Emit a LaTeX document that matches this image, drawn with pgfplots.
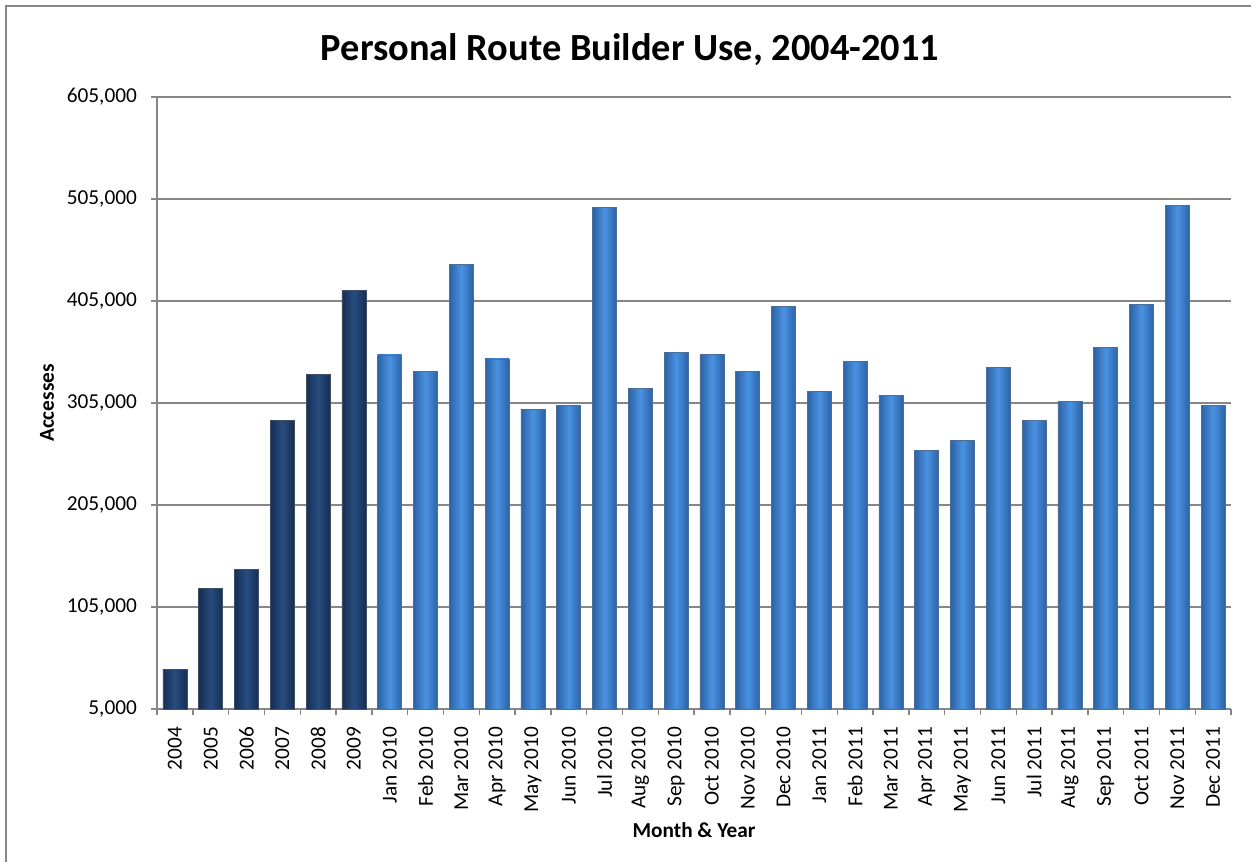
\documentclass[border=0pt]{standalone}
\usepackage{pgfplots}
\pgfplotsset{compat=1.18}
\usepackage{fontspec}
\setmainfont{Carlito}
\definecolor{gridgray}{RGB}{134,134,134}
\definecolor{darkE}{RGB}{22,46,84}
\definecolor{darkC}{RGB}{40,76,126}
\definecolor{lightE}{RGB}{44,98,166}
\definecolor{lightC}{RGB}{74,146,226}
\pgfplotsset{
  darkbar/.style={ybar, bar width=12pt, bar shift=0pt, draw=darkE!60!gray, line width=0.4pt,
    left color=darkE, right color=darkE, middle color=darkC},
  lightbar/.style={ybar, bar width=12pt, bar shift=0pt, draw=lightE!60!gray, line width=0.4pt,
    left color=lightE, right color=lightE, middle color=lightC},
}
\begin{document}
\begin{tikzpicture}[x=1pt,y=1pt]
\useasboundingbox (0,0) rectangle (625.5,431);
\draw[gridgray, line width=0.8pt] (3,0) -- (3,428) -- (625.5,428);
\node[font=\fontsize{19.2}{23}\selectfont\bfseries] at (315,406) {Personal Route Builder Use, 2004-2011};
\node[font=\fontsize{10.65}{12.8}\selectfont\bfseries, rotate=90] at (23.5,229.5) {Accesses};
\node[font=\fontsize{10.65}{12.8}\selectfont\bfseries] at (347,16) {Month \& Year};
\begin{axis}[
  at={(78.5pt,76.5pt)}, anchor=south west,
  width=537pt, height=306pt, scale only axis,
  xmin=-0.5, xmax=29.5, ymin=5000, ymax=605000,
  enlargelimits=false,
  axis x line*=bottom, axis y line*=left,
  axis line style={gridgray, line width=0.7pt},
  xtick={0,...,29},
  xticklabels={2004,2005,2006,2007,2008,2009,Jan 2010,Feb 2010,Mar 2010,Apr 2010,May 2010,Jun 2010,Jul 2010,Aug 2010,Sep 2010,Oct 2010,Nov 2010,Dec 2010,Jan 2011,Feb 2011,Mar 2011,Apr 2011,May 2011,Jun 2011,Jul 2011,Aug 2011,Sep 2011,Oct 2011,Nov 2011,Dec 2011},
  minor xtick={-0.5,0.5,...,29.5},
  ytick={5000,105000,205000,305000,405000,505000,605000},
  minor ytick={5000,105000,205000,305000,405000,505000,605000},
  ymajorgrids=true,
  major grid style={gridgray, line width=0.7pt},
  major tick length=0pt, minor tick length=3pt,
  tick align=outside,
  tick style={gridgray, line width=0.7pt},
  scaled y ticks=false,
  /pgf/number format/fixed,
  /pgf/number format/1000 sep={,},
  /pgf/number format/assume math mode=true,
  tick label style={font=\fontsize{10.65}{12.8}\selectfont, text=black},
  yticklabel style={xshift=-6.5pt},
  xticklabel style={yshift=-5.5pt, rotate=90, anchor=east},
  clip=false,
]
\addplot[darkbar] coordinates {(0,44000)};
\addplot[darkbar] coordinates {(1,123500)};
\addplot[darkbar] coordinates {(2,141500)};
\addplot[darkbar] coordinates {(3,287500)};
\addplot[darkbar] coordinates {(4,332800)};
\addplot[darkbar] coordinates {(5,415400)};
\addplot[lightbar] coordinates {(6,352100)};
\addplot[lightbar] coordinates {(7,335700)};
\addplot[lightbar] coordinates {(8,441000)};
\addplot[lightbar] coordinates {(9,348200)};
\addplot[lightbar] coordinates {(10,299000)};
\addplot[lightbar] coordinates {(11,302700)};
\addplot[lightbar] coordinates {(12,496700)};
\addplot[lightbar] coordinates {(13,319600)};
\addplot[lightbar] coordinates {(14,354200)};
\addplot[lightbar] coordinates {(15,352800)};
\addplot[lightbar] coordinates {(16,335900)};
\addplot[lightbar] coordinates {(17,400000)};
\addplot[lightbar] coordinates {(18,316300)};
\addplot[lightbar] coordinates {(19,345900)};
\addplot[lightbar] coordinates {(20,312600)};
\addplot[lightbar] coordinates {(21,258500)};
\addplot[lightbar] coordinates {(22,268100)};
\addplot[lightbar] coordinates {(23,340200)};
\addplot[lightbar] coordinates {(24,288100)};
\addplot[lightbar] coordinates {(25,306700)};
\addplot[lightbar] coordinates {(26,359500)};
\addplot[lightbar] coordinates {(27,401700)};
\addplot[lightbar] coordinates {(28,498700)};
\addplot[lightbar] coordinates {(29,302700)};
\end{axis}
\end{tikzpicture}
\end{document}
